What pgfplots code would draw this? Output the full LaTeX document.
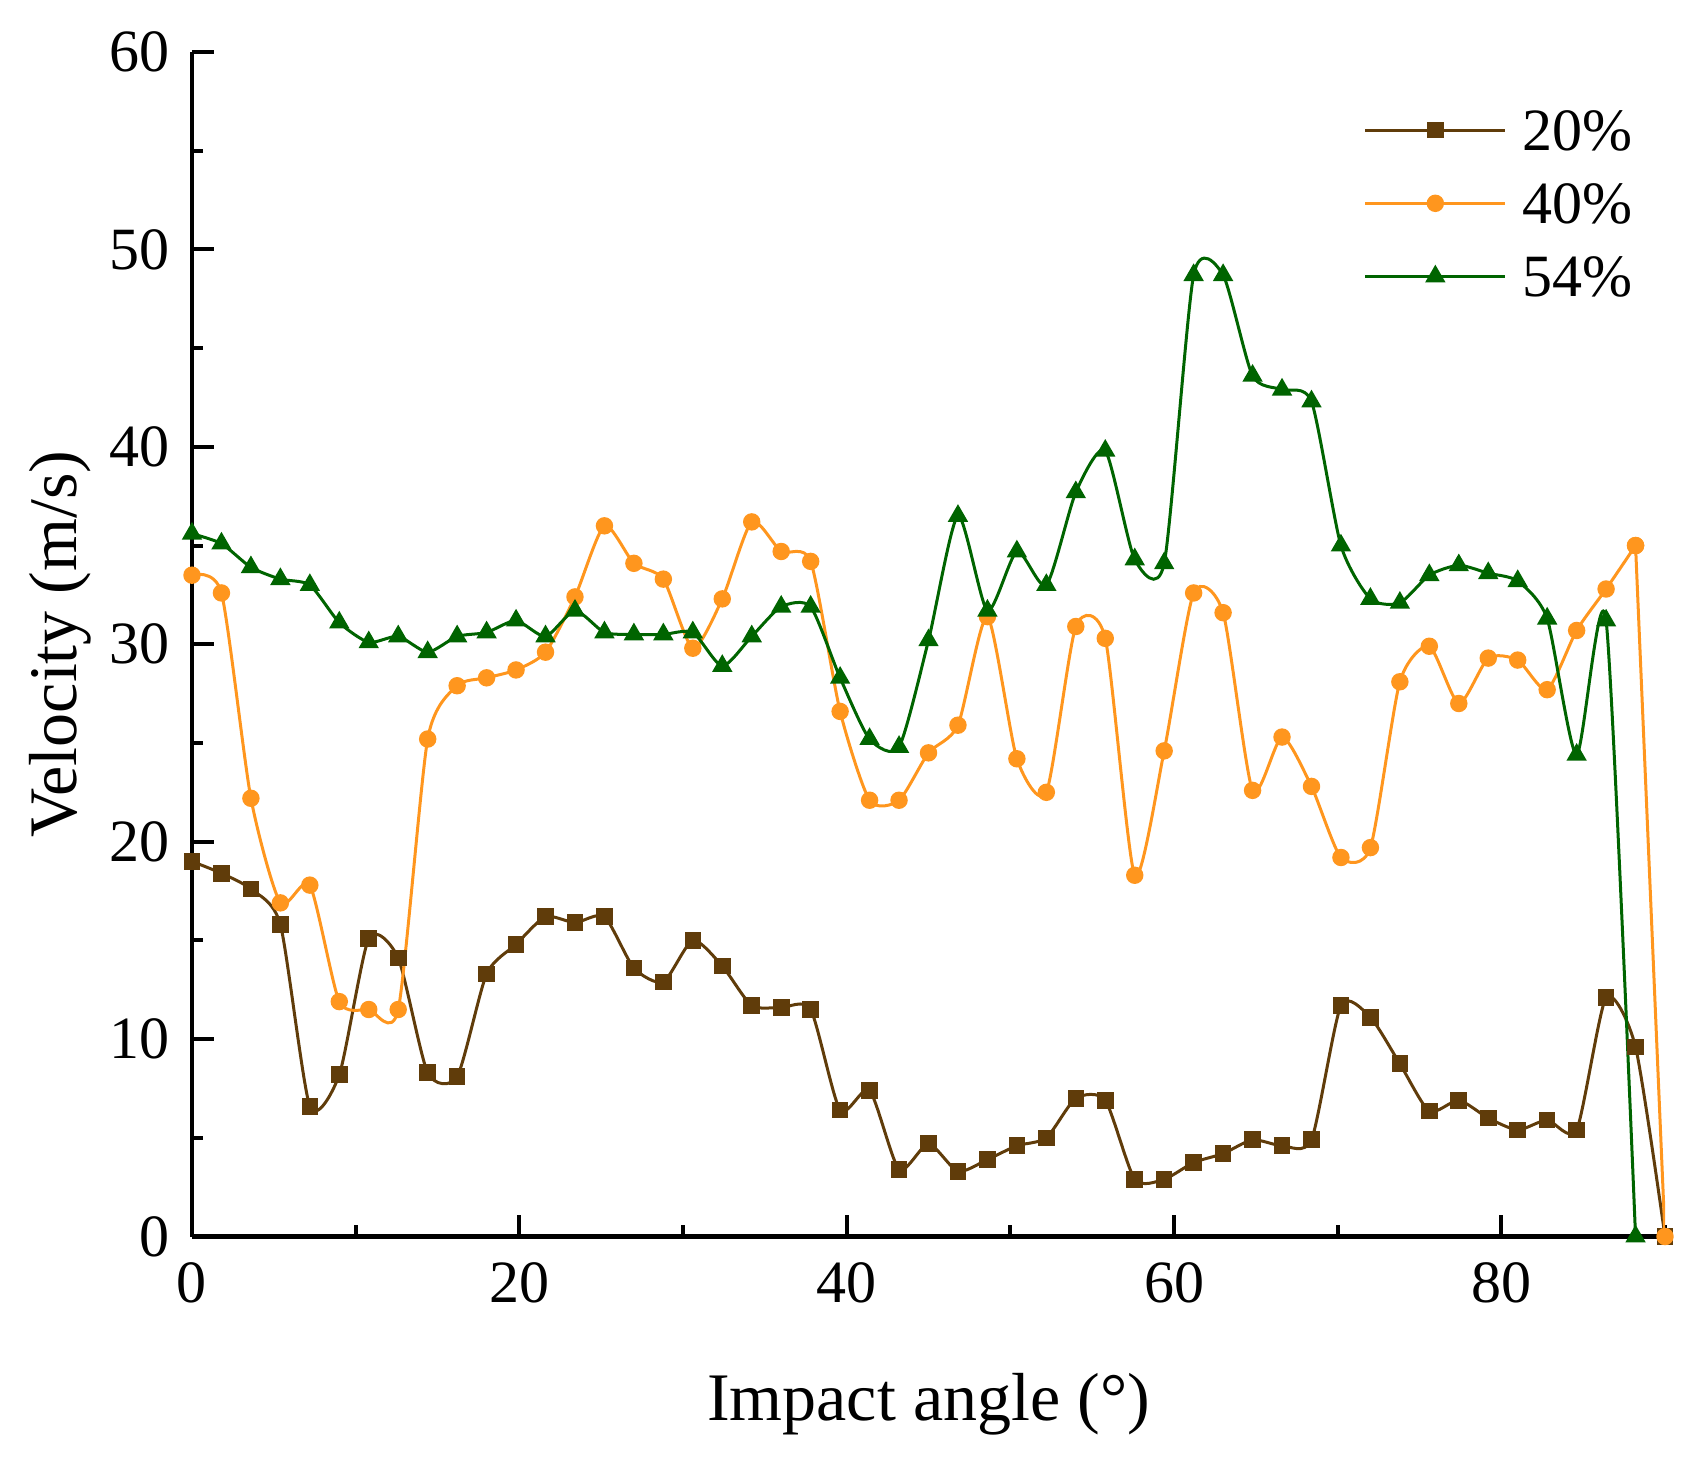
\documentclass[border=0pt]{standalone}
\usepackage{pgfplots}
\pgfplotsset{compat=1.18}
\usepackage{pgfplotstable}
\usepackage{fontspec}
\setmainfont{Liberation Serif}
\definecolor{cbrown}{RGB}{96,60,10}
\definecolor{corange}{RGB}{255,150,30}
\definecolor{cgreen}{RGB}{0,100,0}

\pgfplotstableread{
x y
0 19.0
1.8 18.4
3.6 17.6
5.4 15.8
7.2 6.6
9.0 8.2
10.8 15.1
12.6 14.1
14.4 8.3
16.2 8.1
18.0 13.3
19.8 14.8
21.6 16.2
23.4 15.9
25.2 16.2
27.0 13.6
28.8 12.9
30.6 15.0
32.4 13.7
34.2 11.7
36.0 11.6
37.8 11.5
39.6 6.4
41.4 7.4
43.2 3.4
45.0 4.7
46.8 3.3
48.6 3.9
50.4 4.6
52.2 5.0
54.0 7.0
55.8 6.9
57.6 2.9
59.4 2.9
61.2 3.75
63.0 4.2
64.8 4.9
66.6 4.6
68.4 4.9
70.2 11.7
72.0 11.1
73.8 8.75
75.6 6.35
77.4 6.9
79.2 6.0
81.0 5.4
82.8 5.9
84.6 5.4
86.4 12.1
88.2 9.6
90 0
}\tabA

\pgfplotstableread{
x y
0 33.5
1.8 32.6
3.6 22.2
5.4 16.9
7.2 17.8
9.0 11.9
10.8 11.5
12.6 11.5
14.4 25.2
16.2 27.9
18.0 28.3
19.8 28.7
21.6 29.6
23.4 32.4
25.2 36.0
27.0 34.1
28.8 33.3
30.6 29.8
32.4 32.3
34.2 36.2
36.0 34.7
37.8 34.2
39.6 26.6
41.4 22.1
43.2 22.1
45.0 24.5
46.8 25.9
48.6 31.4
50.4 24.2
52.2 22.5
54.0 30.9
55.8 30.3
57.6 18.3
59.4 24.6
61.2 32.6
63.0 31.6
64.8 22.6
66.6 25.3
68.4 22.8
70.2 19.2
72.0 19.7
73.8 28.1
75.6 29.9
77.4 27.0
79.2 29.3
81.0 29.2
82.8 27.7
84.6 30.7
86.4 32.8
88.2 35.0
}\tabB

\pgfplotstableread{
x y
88.2 35.0
90 0
}\tabBend

\pgfplotstableread{
x y
0 35.6
1.8 35.1
3.6 33.9
5.4 33.3
7.2 33.0
9.0 31.1
10.8 30.1
12.6 30.4
14.4 29.6
16.2 30.4
18.0 30.6
19.8 31.2
21.6 30.4
23.4 31.7
25.2 30.6
27.0 30.5
28.8 30.5
30.6 30.6
32.4 28.9
34.2 30.4
36.0 31.9
37.8 31.9
39.6 28.3
41.4 25.2
43.2 24.8
45.0 30.2
46.8 36.5
48.6 31.7
50.4 34.7
52.2 33.0
54.0 37.7
55.8 39.8
57.6 34.3
59.4 34.1
61.2 48.7
63.0 48.7
64.8 43.6
66.6 42.9
68.4 42.3
70.2 35.0
72.0 32.3
73.8 32.1
75.6 33.5
77.4 34.0
79.2 33.6
81.0 33.2
82.8 31.3
84.6 24.4
86.4 31.2
88.2 0
}\tabC

\begin{document}
\begin{tikzpicture}
\path[use as bounding box] (-48pt,-55.875pt) rectangle (374.25pt,309.125pt);
\begin{axis}[
  scale only axis,
  width=368.25pt, height=296.125pt,
  at={(0,0)}, anchor=south west,
  xmin=0, xmax=90, ymin=0, ymax=60,
  axis x line*=bottom, axis y line*=left,
  axis line style={line width=1.1pt},
  xtick={0,20,40,60,80},
  minor xtick={10,30,50,70,90},
  ytick={0,10,...,60},
  minor ytick={5,15,...,55},
  tick align=inside,
  major tick length=5.5pt, minor tick length=2.8pt,
  every tick/.style={black, line width=1pt},
  /pgf/number format/assume math mode=true,
  tick label style={font=\fontsize{15}{17}\selectfont},
  xticklabel style={yshift=-3pt},
  yticklabel style={xshift=-2pt},
  xlabel={Impact angle (°)},
  ylabel={Velocity (m/s)},
  every axis x label/.style={at={(axis description cs:0.5,0)}, anchor=center, yshift=-42pt, font=\fontsize{17}{20}\selectfont},
  every axis y label/.style={at={(axis description cs:0,0.5)}, anchor=center, rotate=90, yshift=33pt, font=\fontsize{17}{20}\selectfont},
  legend image code/.code={\draw[mark repeat=2,mark phase=2,#1] plot[sharp plot] coordinates {(0pt,0pt) (17.5pt,0pt) (35pt,0pt)};},
  legend style={at={(0.795,0.953)}, anchor=north west, draw=none, fill=none,
    font=\fontsize{15}{18}\selectfont, inner sep=0pt, row sep=7.5pt, column sep=4pt,
    nodes={inner sep=0pt, text height=10.4pt, text depth=0.4pt}},
  legend cell align=left,
  clip=true,
]
\addplot[cbrown, line width=0.75pt, smooth, tension=0.4, mark=square*, mark size=1.7pt, mark options={solid, fill=cbrown}] table[x=x,y=y]{\tabA};
\addlegendentry{20\%}
\addplot[corange, line width=0.75pt, smooth, tension=0.4, mark=*, mark size=1.8pt, mark options={solid, fill=corange}] table[x=x,y=y]{\tabB};
\addlegendentry{40\%}
\addplot[cgreen, line width=0.75pt, smooth, tension=0.4, mark=triangle*, mark size=2.2pt, mark options={solid, fill=cgreen}] table[x=x,y=y]{\tabC};
\addlegendentry{54\%}
\addplot[corange, line width=0.75pt, sharp plot, mark=*, mark size=1.8pt, mark options={solid, fill=corange}, forget plot] table[x=x,y=y]{\tabBend};
\end{axis}
\end{tikzpicture}
\end{document}
